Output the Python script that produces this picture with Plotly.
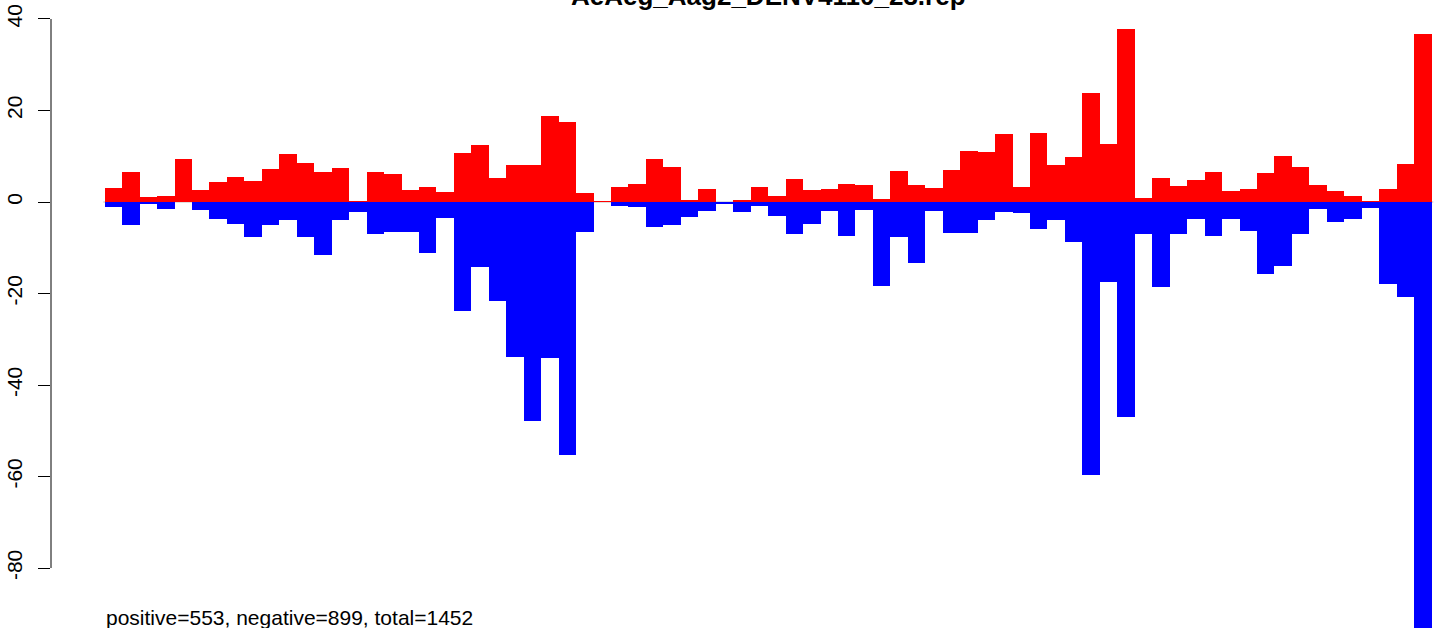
import plotly.graph_objects as go

# Bin indices along the sequence (no x-axis shown in the original)
bins = list(range(76))

# Positive-strand values (red, above zero)
positive = [3.1, 6.6, 1.1, 1.3, 9.4, 2.6, 4.4, 5.5, 4.6, 7.2,
            10.5, 8.5, 6.6, 7.4, 0.2, 6.6, 6.1, 2.6, 3.3, 2.2,
            10.7, 12.5, 5.2, 8.1, 8.1, 18.8, 17.5, 2.0, 0.2, 3.3,
            3.9, 9.4, 7.7, 0.4, 2.8, 0.0, 0.4, 3.3, 1.3, 5.0,
            2.6, 2.8, 3.9, 3.7, 0.7, 6.8, 3.7, 3.1, 7.0, 11.1,
            10.9, 14.9, 3.3, 15.1, 8.1, 9.8, 23.8, 12.7, 37.8, 0.9,
            5.2, 3.5, 4.8, 6.6, 2.4, 2.8, 6.3, 10.1, 7.7, 3.7,
            2.4, 1.3, 0.2, 2.8, 8.3, 36.7]

# Negative-strand values (blue, below zero)
negative = [-1.2, -5.0, -0.4, -1.5, 0.0, -1.7, -3.7, -4.7, -7.6, -5.0,
            -3.9, -7.6, -11.5, -3.9, -2.1, -6.9, -6.5, -6.5, -11.1, -3.4,
            -23.8, -14.1, -21.6, -33.8, -47.8, -34.2, -55.2, -6.5, 0.0, -0.9,
            -1.2, -5.4, -5.0, -3.2, -1.9, -0.5, -2.1, -0.8, -3.0, -7.1,
            -4.7, -1.9, -7.4, -1.7, -18.4, -7.6, -13.3, -2.0, -6.7, -6.7,
            -3.9, -2.2, -2.4, -5.8, -3.9, -8.7, -59.7, -17.5, -47.0, -7.0,
            -18.6, -7.0, -3.7, -7.4, -3.7, -6.3, -15.7, -14.0, -7.0, -1.5,
            -4.4, -3.7, -1.3, -17.9, -20.8, -95.0]

y_ticks = [-80, -60, -40, -20, 0, 20, 40]
title_text = "AeAeg_Aag2_DENV4110_23.rep"
footer_text = "positive=553, negative=899, total=1452"

FONT = "Liberation Sans, Arial, Helvetica, sans-serif"

fig = go.Figure()
fig.add_trace(go.Bar(x=bins, y=negative, width=1.0,
                     marker=dict(color="#0000FF", line=dict(width=0)),
                     showlegend=False, hoverinfo="x+y"))
fig.add_trace(go.Bar(x=bins, y=positive, width=1.0,
                     marker=dict(color="#FF0000", line=dict(width=0)),
                     showlegend=False, hoverinfo="x+y"))

fig.update_layout(
    width=1441, height=628,
    margin=dict(l=51, r=0, t=0, b=0, autoexpand=False),
    paper_bgcolor="white", plot_bgcolor="white",
    barmode="overlay", bargap=0,
    font=dict(family=FONT, color="black"),
    xaxis=dict(range=[-3.576, 76.04], visible=False, automargin=False),
    yaxis=dict(range=[-93.11, 44.15], tickvals=y_ticks,
               ticktext=[str(v) for v in y_ticks],
               ticks="outside", ticklen=12, tickwidth=1, tickcolor="black",
               tickangle=-90, tickfont=dict(size=21, family=FONT, color="black"),
               ticklabelstandoff=8, automargin=False,
               showgrid=False, zeroline=False, showline=False),
    shapes=[
        dict(type="line", xref="paper", yref="y", x0=0, x1=0, y0=-80, y1=40,
             line=dict(color="black", width=1)),
        dict(type="line", xref="x", yref="y", x0=-0.58, x1=75.6, y0=0, y1=0,
             line=dict(color="#BEBEBE", width=1), layer="below"),
    ],
    annotations=[
        dict(text="<b>" + title_text + "</b>", xref="paper", yref="paper",
             x=(768 - 51) / 1390, y=1, xanchor="center", yanchor="middle",
             yshift=4, showarrow=False, font=dict(size=26, family=FONT, color="black")),
        dict(text=footer_text, xref="x", yref="paper", x=-0.55, y=0,
             xanchor="left", yanchor="bottom", yshift=-3, showarrow=False,
             font=dict(size=21, family=FONT, color="black")),
    ],
)

fig.write_html("out.html",
               config={"displayModeBar": False},
               post_script="document.body.style.margin='0px';document.body.style.padding='0px';")
